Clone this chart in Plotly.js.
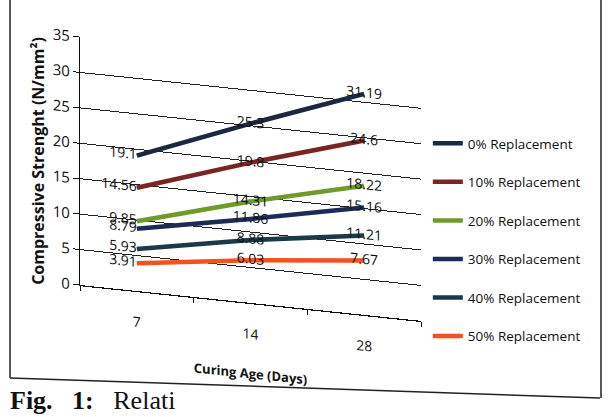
<!DOCTYPE html>
<html>
<head>
<meta charset="utf-8">
<script src="https://cdn.plot.ly/plotly-3.0.1.min.js"></script>
<style>
html,body{margin:0;padding:0;background:#fff;}
#chart{width:610px;height:417px;}
</style>
</head>
<body>
<div id="chart"></div>
<script>
// ---- data ----
const curingAge = ['7', '14', '28'];
const seriesNames = ['0% Replacement', '10% Replacement', '20% Replacement', '30% Replacement', '40% Replacement', '50% Replacement'];
const rep0  = [19.1, 25.3, 31.19];
const rep10 = [14.56, 19.8, 24.6];
const rep20 = [9.85, 14.31, 18.22];
const rep30 = [8.79, 11.86, 15.16];
const rep40 = [5.93, 8.88, 11.21];
const rep50 = [3.91, 6.03, 7.67];
const yTicks = [0, 5, 10, 15, 20, 25, 30, 35];

// ---- styles ----
const seriesValues = [rep0, rep10, rep20, rep30, rep40, rep50];
const colors = ['#1c2740', '#7a2424', '#6f9a2c', '#1d2b55', '#1b3a48', '#f2521e'];

// plot area in pixels
const L = 80, R = 421, T = 37, B = 285;
const px = x => (x - L) / (R - L);
const py = y => (B - y) / (B - T);

const traces = seriesValues.map((vals, i) => ({
  type: 'scatter',
  mode: 'lines+text',
  name: seriesNames[i],
  legendgroup: 'g' + i,
  x: curingAge,
  y: vals,
  text: vals.map(v => String(v)),
  textposition: ['middle left', 'middle center', 'middle center'],
  textfont: {family: 'Open Sans, Noto Sans, sans-serif', size: 14, color: '#111'},
  line: {color: colors[i], width: 4.5},
  cliponaxis: false,
  hoverinfo: 'skip'
}));

const layout = {
  width: 610, height: 417,
  margin: {l: L, r: 610 - R, t: T, b: 417 - B},
  paper_bgcolor: '#ffffff',
  plot_bgcolor: '#ffffff',
  showlegend: true,
  legend: {
    x: 1.02, xanchor: 'left',
    y: py(128), yanchor: 'top',
    font: {family: 'Open Sans, Noto Sans, sans-serif', size: 13.5, color: '#111'},
    tracegroupgap: 18,
    itemwidth: 30,
    bgcolor: 'rgba(0,0,0,0)'
  },
  xaxis: {
    type: 'category',
    categoryarray: curingAge,
    range: [-0.5, 2.5],
    showline: true, linecolor: '#111', linewidth: 1.2,
    ticks: 'outside', tickson: 'boundaries', ticklen: 5, tickcolor: '#111',
    showgrid: false,
    ticklabelstandoff: 18,
    tickfont: {family: 'Open Sans, Noto Sans, sans-serif', size: 14, color: '#111'},
    title: {text: 'Curing Age (Days)', standoff: 27,
      font: {family: 'Open Sans, Noto Sans, sans-serif', size: 13, color: '#111', weight: 'bold'}},
    fixedrange: true
  },
  yaxis: {
    range: [0, 35],
    tickvals: yTicks,
    showline: true, linecolor: '#111', linewidth: 1.2,
    ticks: 'outside', ticklen: 6, tickcolor: '#111',
    showgrid: true, gridcolor: '#222', gridwidth: 1,
    zeroline: false,
    tickfont: {family: 'Open Sans, Noto Sans, sans-serif', size: 15, color: '#111'},
    title: {text: 'Compressive Strenght (N/mm²)', standoff: 4,
      font: {family: 'Open Sans, Noto Sans, sans-serif', size: 16, color: '#111', weight: 'bold'}},
    fixedrange: true
  },
  shapes: [
    {type: 'line', xref: 'paper', yref: 'paper', x0: px(10), y0: py(-5), x1: px(10), y1: py(378), line: {color: '#222', width: 1.5}},
    {type: 'line', xref: 'paper', yref: 'paper', x0: px(10), y0: py(378), x1: px(600), y1: py(398), line: {color: '#222', width: 1.5}},
    {type: 'line', xref: 'paper', yref: 'paper', x0: px(601), y0: py(-5), x1: px(601), y1: py(398), line: {color: '#222', width: 1.5}}
  ],
  annotations: [
    {xref: 'paper', yref: 'paper', x: px(8), y: py(400), xanchor: 'left', yanchor: 'middle',
     showarrow: false, text: '<b>Fig.</b>\u00a0\u00a0\u00a0<b>1:</b>\u00a0\u00a0\u00a0Relati',
     font: {family: 'Liberation Serif, DejaVu Serif, serif', size: 26, color: '#111'}}
  ]
};

Plotly.newPlot('chart', traces, layout, {displayModeBar: false, staticPlot: true}).then(gd => {
  const ang = 6;
  const t = Math.tan(ang * Math.PI / 180);
  const tr = 'translate(0,' + (-L * t) + ') skewY(' + ang + ')';
  ['.cartesianlayer', '.g-xtitle'].forEach(sel => {
    const el = gd.querySelector(sel);
    if (el) el.setAttribute('transform', tr);
  });
});
</script>
</body>
</html>
